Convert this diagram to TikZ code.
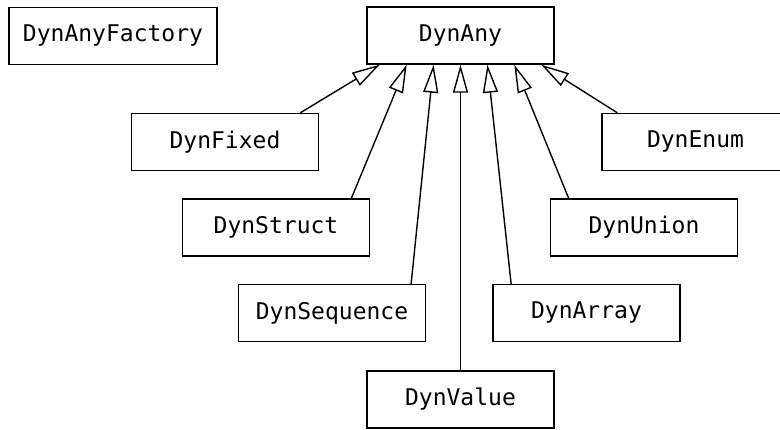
\documentclass[tikz,border=0pt]{standalone}
\usepackage{fontspec}
\setmonofont{DejaVu Sans Mono}
\usetikzlibrary{arrows.meta,calc}

\begin{document}
\begin{tikzpicture}[x=1pt, y=-1pt, line width=1.4pt,
	cls/.style={draw, rectangle, minimum width=187pt, minimum height=57pt,
	inner xsep=14pt, font=\ttfamily\fontsize{23}{28}\selectfont},
	inherit/.style={-{Triangle[open, length=28pt, width=15pt]}}]
\useasboundingbox (0,0) rectangle (780,429);
\node[cls] (factory) at (113, 36) {DynAnyFactory};
\node[cls] (any) at (460.5, 35.5) {DynAny};
\node[cls] (fixed) at (225, 142) {DynFixed};
\node[cls] (enum) at (695.5, 142) {DynEnum};
\node[cls] (struct) at (276, 227.5) {DynStruct};
\node[cls] (union) at (644, 227.5) {DynUnion};
\node[cls] (sequence) at (332, 313) {DynSequence};
\node[cls] (array) at (586.5, 313) {DynArray};
\node[cls] (value) at (460.5, 399.5) {DynValue};
% subclasses point up to the base class
\foreach \sub/\from/\to in {fixed/0.9/0.0714, struct/0.9/0.2143, sequence/0.92/0.3571,
	value/0.5/0.5, array/0.1/0.6429, union/0.1/0.7857, enum/0.085/0.9286}
	\draw[inherit] ($(\sub.north west)!\from!(\sub.north east)$)
		-- ($(any.south west)!\to!(any.south east)$);
\end{tikzpicture}
\end{document}
